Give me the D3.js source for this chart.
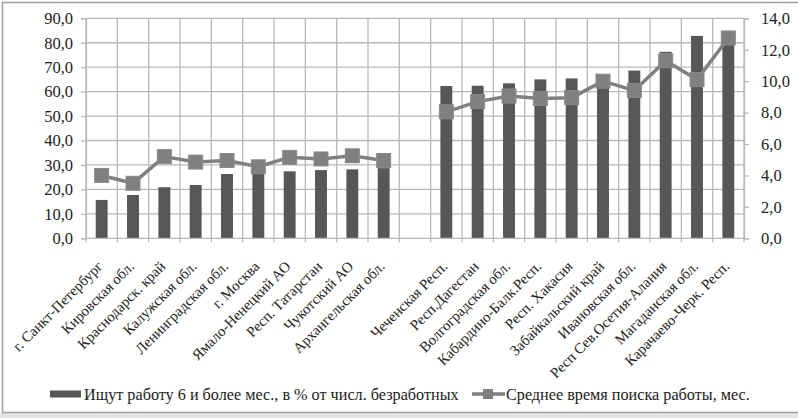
<!DOCTYPE html>
<html><head><meta charset="utf-8">
<script src="https://cdn.jsdelivr.net/npm/d3@7/dist/d3.min.js"></script>
<style>html,body{margin:0;padding:0;background:#fff;}svg{display:block;}</style>
</head><body>
<script>
const categories = ["г. Санкт-Петербург","Кировская обл.","Краснодарск. край","Калужская обл.","Ленинградская обл.","г. Москва","Ямало-Ненецкий АО","Респ. Татарстан","Чукотский АО","Архангельская обл.","",
"Чеченская Респ.","Респ.Дагестан","Волгоградская обл.","Кабардино-Балк.Респ.","Респ. Хакасия","Забайкальский край","Ивановская обл.","Респ Сев.Осетия-Алания","Магаданская обл.","Карачаево-Черк. Респ."];
const sharePct = [15.7,17.7,20.9,21.8,26.3,26.8,27.4,27.9,28.2,28.7,null,62.3,62.4,63.4,65.0,65.4,66.5,68.6,76.3,82.8,84.5];
const avgMonths = [4.0,3.5,5.2,4.85,4.95,4.55,5.15,5.05,5.25,4.95,null,8.05,8.7,9.05,8.9,8.95,10.0,9.4,11.3,10.1,12.75];
const leftTicks = [0,10,20,30,40,50,60,70,80,90];
const rightTicks = [0,2,4,6,8,10,12,14];
const seriesNames = ["Ищут работу 6 и более мес., в % от числ. безработных","Среднее время поиска работы, мес."];

const W=798,H=418;
const FONT='"Liberation Serif"';
const svg=d3.select("body").append("svg").attr("width",W).attr("height",H);
const plot={l:86,r:744,t:18.3,b:238.3};
const x=d3.scaleBand().domain(d3.range(categories.length)).range([plot.l,plot.r]).padding(0);
const yL=d3.scaleLinear().domain([0,90]).range([plot.b,plot.t]);
const yR=d3.scaleLinear().domain([0,14]).range([plot.b,plot.t]);
const grid="#b8b8b8", barCol="#575757", lineCol="#808080", txt="#222";

// outer frame
svg.append("rect").attr("x",0).attr("y",413).attr("width",W).attr("height",5).attr("fill","#e4e4e4");
svg.append("rect").attr("x",2.5).attr("y",2.5).attr("width",W).attr("height",410).attr("fill","none").attr("stroke","#a0a0a0").attr("stroke-width",1.5);

// grid
const g=svg.append("g");
g.selectAll("line.h").data(leftTicks.filter(d=>d>0)).join("line")
 .attr("x1",plot.l).attr("x2",plot.r).attr("y1",d=>yL(d)).attr("y2",d=>yL(d))
 .attr("stroke",grid).attr("stroke-width",1.3);
const bounds=d3.range(categories.length+1).map(i=>plot.l+i*x.step());
g.selectAll("line.v").data(bounds).join("line")
 .attr("x1",d=>d).attr("x2",d=>d).attr("y1",plot.t).attr("y2",plot.b+4)
 .attr("stroke",grid).attr("stroke-width",1.3);

// bars
const bw=x.bandwidth()*0.38;
svg.append("g").selectAll("rect").data(sharePct.map((v,i)=>({v,i})).filter(d=>d.v!=null)).join("rect")
 .attr("x",d=>x(d.i)+x.bandwidth()/2-bw/2).attr("width",bw)
 .attr("y",d=>yL(d.v)).attr("height",d=>plot.b-yL(d.v)).attr("fill",barCol);

// axes
const fmt=d=>d3.format(".1f")(d).replace(".",",");
const axL=svg.append("g").attr("transform",`translate(${plot.l},0)`).call(d3.axisLeft(yL).tickValues(leftTicks).tickSize(5).tickPadding(8).tickFormat(fmt));
const axR=svg.append("g").attr("transform",`translate(${plot.r},0)`).call(d3.axisRight(yR).tickValues(rightTicks).tickSize(5).tickPadding(12).tickFormat(fmt));
[axL,axR].forEach(a=>{
 a.attr("font-family",null).attr("font-size",null);
 a.select(".domain").attr("stroke",grid).attr("stroke-width",1.3);
 a.selectAll(".tick line").attr("stroke",grid).attr("stroke-width",1.3);
 a.selectAll("text").style("font-family",FONT).style("font-size","16.5px").attr("fill",txt);});
svg.append("line").attr("x1",plot.l).attr("x2",plot.r).attr("y1",plot.b).attr("y2",plot.b).attr("stroke",grid).attr("stroke-width",1.3);

// line
const lineGen=d3.line().defined(d=>d!=null).x((d,i)=>x(i)+x.bandwidth()/2).y(d=>yR(d));
svg.append("path").datum(avgMonths).attr("d",lineGen).attr("fill","none").attr("stroke",lineCol).attr("stroke-width",3.5);
const ms=14;
svg.append("g").selectAll("rect").data(avgMonths.map((v,i)=>({v,i})).filter(d=>d.v!=null)).join("rect")
 .attr("x",d=>x(d.i)+x.bandwidth()/2-ms/2).attr("y",d=>yR(d.v)-ms/2).attr("width",ms).attr("height",ms)
 .attr("fill",lineCol).attr("stroke","#8a8a8a").attr("stroke-width",1);

// category labels
svg.append("g").selectAll("text").data(categories.map((c,i)=>({c,i})).filter(d=>d.c)).join("text")
 .attr("transform",d=>`translate(${x(d.i)+x.bandwidth()/2+2},${plot.b+29}) rotate(-45)`)
 .attr("text-anchor","end").style("font-family",FONT).style("font-size","14.8px").attr("fill",txt).text(d=>d.c);

// legend
const ly=394;
svg.append("rect").attr("x",50).attr("y",ly-3.5).attr("width",31).attr("height",7).attr("fill",barCol);
svg.append("text").attr("x",84).attr("y",ly+5.5).style("font-family",FONT).style("font-size","16.2px").attr("fill",txt).text(seriesNames[0]);
svg.append("line").attr("x1",472).attr("x2",505).attr("y1",ly).attr("y2",ly).attr("stroke",lineCol).attr("stroke-width",3.5);
svg.append("rect").attr("x",483).attr("y",ly-5).attr("width",10).attr("height",10).attr("fill",lineCol);
svg.append("text").attr("x",506).attr("y",ly+5.5).style("font-family",FONT).style("font-size","16.2px").attr("fill",txt).text(seriesNames[1]);
</script>
</body></html>
